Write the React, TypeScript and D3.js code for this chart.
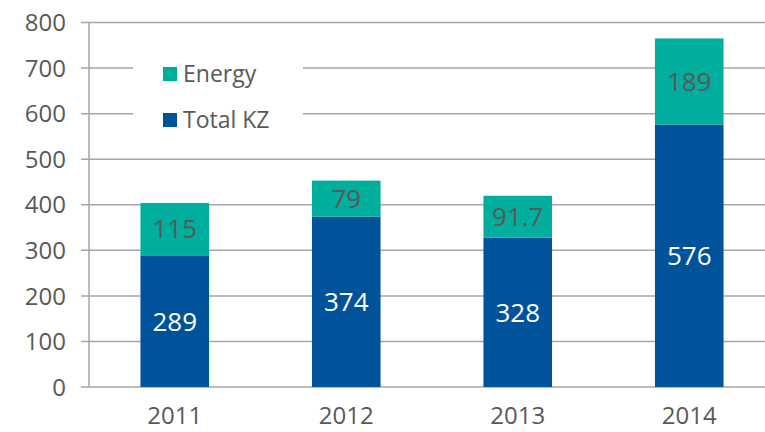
import * as d3 from "d3";

const years = ["2011", "2012", "2013", "2014"];
const totalKZ = [289, 374, 328, 576];
const energy = [115, 79, 91.7, 189];
const yTicks = [0, 100, 200, 300, 400, 500, 600, 700, 800];

const W = 765, H = 432;
const m = { top: 22.5, right: -10, bottom: 45, left: 89 };
const FONT = "'Open Sans', sans-serif";
const BLUE = "#00539b";
const TEAL = "#00ae9d";
const GRID = "#a6a6a6";
const TXT = "#595959";

export default function App() {
  const x = d3.scaleBand<string>()
    .domain(years)
    .range([m.left, W - m.right])
    .paddingInner(0.6)
    .paddingOuter(0.3);
  const y = d3.scaleLinear().domain([0, 800]).range([H - m.bottom, m.top]);

  const fmt = (v: number) => (Number.isInteger(v) ? String(v) : v.toFixed(1));

  return (
    <svg width={W} height={H} style={{ position: "absolute", left: 0, top: 0, display: "block" }}
      fontFamily={FONT}>
      <rect width={W} height={H} fill="#fff" />

      {/* grid + ticks */}
      {yTicks.map(t => (
        <g key={t}>
          <line x1={81} x2={W - m.right} y1={y(t)} y2={y(t)} stroke={GRID} strokeWidth={1.5} />
          <text x={66} y={y(t)} dy="0.36em" textAnchor="end" fontSize={24} fill={TXT}>{t}</text>
        </g>
      ))}
      <line x1={m.left} x2={m.left} y1={y(800)} y2={y(0)} stroke={GRID} strokeWidth={1.5} />

      {/* legend box */}
      <rect x={133} y={40} width={170} height={110} fill="#fff" />
      <rect x={163} y={67} width={14} height={14} fill={TEAL} />
      <text x={183} y={74} dy="0.36em" fontSize={23} fill={TXT}>Energy</text>
      <rect x={163} y={113} width={14} height={14} fill={BLUE} />
      <text x={183} y={120} dy="0.36em" fontSize={23} fill={TXT}>Total KZ</text>

      {/* bars */}
      {years.map((yr, i) => {
        const bx = x(yr) as number;
        const bw = x.bandwidth();
        const t = totalKZ[i];
        const e = energy[i];
        return (
          <g key={yr}>
            <rect x={bx} y={y(t)} width={bw} height={y(0) - y(t)} fill={BLUE} />
            <rect x={bx} y={y(t + e)} width={bw} height={y(t) - y(t + e)} fill={TEAL} />
            <text x={bx + bw / 2} y={(y(0) + y(t)) / 2} dy="0.36em" textAnchor="middle"
              fontSize={26} fill="#fff">{fmt(t)}</text>
            <text x={bx + bw / 2} y={(y(t) + y(t + e)) / 2} dy="0.36em" textAnchor="middle"
              fontSize={26} fill={TXT}>{fmt(e)}</text>
            <text x={bx + bw / 2} y={415} dy="0.36em" textAnchor="middle"
              fontSize={24} fill={TXT}>{yr}</text>
          </g>
        );
      })}
    </svg>
  );
}
